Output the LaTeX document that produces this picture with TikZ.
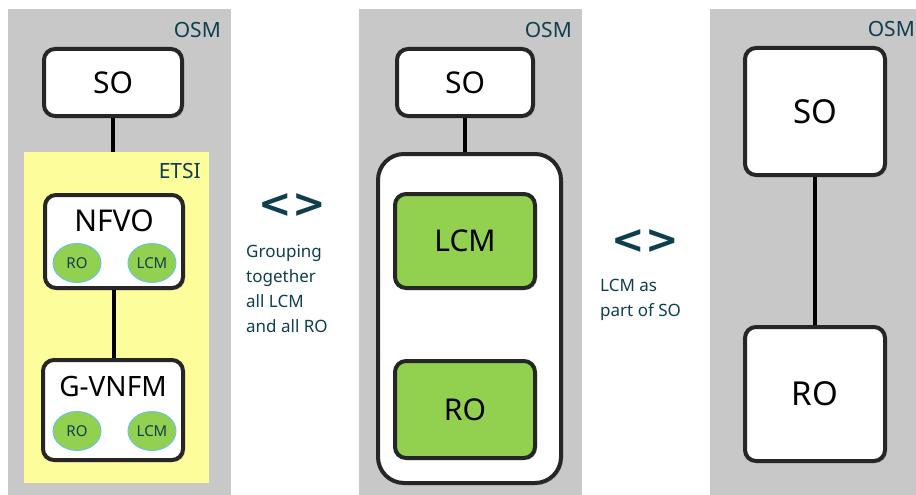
\documentclass[tikz,border=0pt]{standalone}
\usepackage{fontspec}
\setmainfont{Noto Sans}
\newfontfamily\symfont{DejaVu Sans}
\usetikzlibrary{shadows,shapes.geometric}
\definecolor{panelgray}{HTML}{C8C8C8}
\definecolor{etsiyellow}{HTML}{FDFD9B}
\definecolor{osmteal}{HTML}{0E3F4E}
\definecolor{lcmgreen}{HTML}{92D050}
\definecolor{ellborder}{HTML}{6CC5E0}
\begin{document}
\begin{tikzpicture}[x=1pt,y=-1pt,
  panel/.style={fill=panelgray, draw=none, inner sep=0, outer sep=0},
  ybox/.style={fill=etsiyellow, draw=none, inner sep=0, outer sep=0},
  box/.style={draw=black!85, line width=4pt, fill=white, rounded corners=11pt,
    inner sep=0, font=\fontsize{30}{32}\selectfont,
    drop shadow={opacity=0.35, shadow xshift=2pt, shadow yshift=-2pt}},
  gbox/.style={box, fill=lcmgreen},
  ell/.style={ellipse, draw=ellborder, line width=1pt, fill=lcmgreen, inner sep=0,
    minimum width=48pt, minimum height=39pt, text=osmteal, font=\fontsize{15}{16}\selectfont},
  tag/.style={text=osmteal, font=\fontsize{21}{22}\selectfont, inner sep=0},
  sym/.style={text=osmteal, font=\symfont\bfseries\fontsize{40}{42}\selectfont, inner sep=0},
  note/.style={text=osmteal, font=\fontsize{17}{25}\selectfont, align=left, inner sep=0, anchor=north west},
  conn/.style={line width=4pt, draw=black}
]
\useasboundingbox (0,0) rectangle (916,495);
% panels
\node[panel, minimum width=223pt, minimum height=486pt] (p1) at (119.5,252) {};
\node[panel, minimum width=223pt, minimum height=486pt] (p2) at (470.5,252) {};
\node[panel, minimum width=206pt, minimum height=486pt] (p3) at (813,252) {};
\node[tag, anchor=east] (osm1) at (221,30) {OSM};
\node[tag, anchor=east] (osm2) at (572,30) {OSM};
\node[tag, anchor=east] (osm3) at (915,29) {OSM};

% panel 1
\node[ybox, minimum width=185pt, minimum height=331pt] (etsi) at (116.5,317.5) {};
\node[tag, anchor=east] (etsilabel) at (201,171) {ETSI};
\node[box, minimum width=138pt, minimum height=67pt] (so1) at (113,82.5) {SO};
\coordinate (etsitop) at (so1.south |- etsi.north);
\draw[conn] (so1.south) -- (etsitop);
\node[box, minimum width=138pt, minimum height=93pt] (nfvo) at (114,241.5) {};
\node[inner sep=0, font=\fontsize{30}{32}\selectfont] (nfvolabel) at (114,221) {NFVO};
\node[ell] (ro1) at (77,263) {RO};
\node[ell] (lcm1) at (152,263) {LCM};
\node[box, minimum width=140pt, minimum height=100pt] (gvnfm) at (113,410) {};
\node[inner sep=0, font=\fontsize{28}{30}\selectfont] (gvnfmlabel) at (113,387) {G-VNFM};
\node[ell] (ro2) at (77,431) {RO};
\node[ell] (lcm2) at (152,431) {LCM};
\draw[conn] (nfvo.south) -- (nfvo.south |- gvnfm.north);

% between 1 and 2
\node[sym] (sym1) at (292,206) {<>};
\node[note] (note1) at (246,245) {Grouping\\together\\all LCM\\and all RO};

% panel 2
\node[box, minimum width=136pt, minimum height=67pt] (so2) at (465,82.5) {SO};
\node[box, rounded corners=26pt, minimum width=183pt, minimum height=329pt] (group) at (469.5,318.5) {};
\draw[conn] (so2.south) -- (so2.south |- group.north);
\node[gbox, minimum width=140pt, minimum height=94pt] (lcm3) at (465,241) {LCM};
\node[gbox, minimum width=140pt, minimum height=97pt] (ro3) at (465,409.5) {RO};

% between 2 and 3
\node[sym] (sym2) at (645,242) {<>};
\node[note] (note2) at (600,279) {LCM as\\part of SO};

% panel 3
\node[box, minimum width=140pt, minimum height=127pt, font=\fontsize{33}{35}\selectfont] (so4) at (815,111.5) {SO};
\node[box, minimum width=140pt, minimum height=134pt, font=\fontsize{33}{35}\selectfont] (ro4) at (815,394) {RO};
\draw[conn] (so4.south) -- (ro4.north);
\end{tikzpicture}
\end{document}
